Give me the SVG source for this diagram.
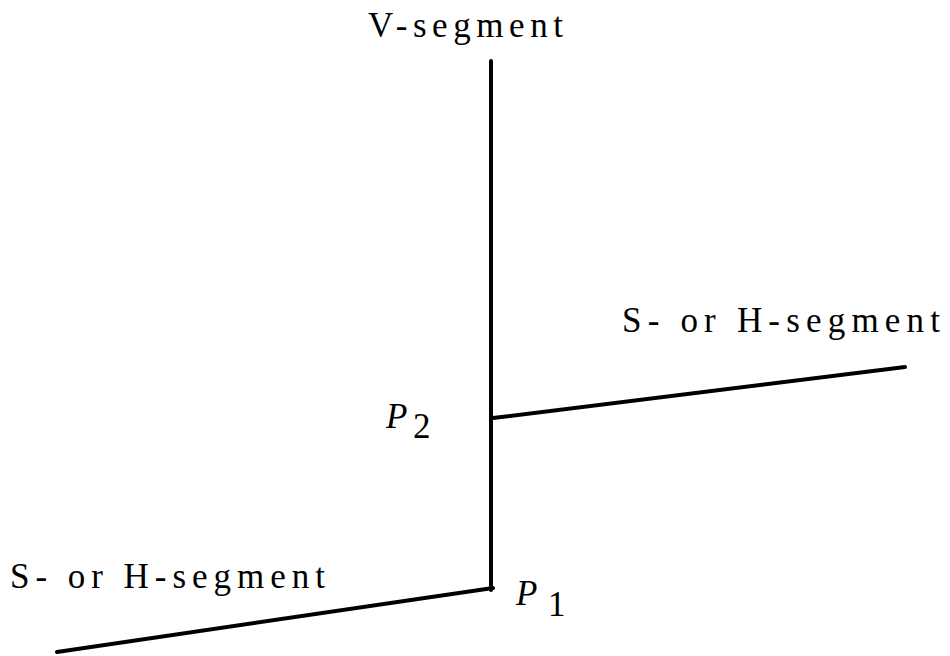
<svg xmlns="http://www.w3.org/2000/svg" width="950" height="656" viewBox="0 0 950 656">
<style>
text{font-family:'Liberation Serif','DejaVu Serif',serif;font-size:35px;fill:#000}
.it{font-style:italic}
.seg{stroke:#000;stroke-width:4;stroke-linecap:round;fill:none}
</style>
<rect width="950" height="656" fill="#fff"/>
<g id="connectors">
<line class="seg" x1="491" y1="61" x2="491" y2="590"/>
<line class="seg" x1="493" y1="418" x2="905" y2="367"/>
<line class="seg" x1="57" y1="652" x2="493" y2="588"/>
</g>
<g id="v-label"><text x="368" y="37" textLength="195" lengthAdjust="spacing" font-family="Liberation Serif, serif">V-segment</text></g>
<g id="sh-right"><text x="622" y="332" textLength="318" lengthAdjust="spacing" font-family="Liberation Serif, serif">S- or H-segment</text></g>
<g id="sh-left"><text x="10" y="588" textLength="315" lengthAdjust="spacing" font-family="Liberation Serif, serif">S- or H-segment</text></g>
<g id="p2"><text class="it" x="386" y="428" font-family="Liberation Serif, serif">P</text><text x="413" y="438" font-family="Liberation Serif, serif">2</text></g>
<g id="p1"><text class="it" x="516" y="605" font-family="Liberation Serif, serif">P</text><text x="548" y="616" font-family="Liberation Serif, serif">1</text></g>
</svg>
